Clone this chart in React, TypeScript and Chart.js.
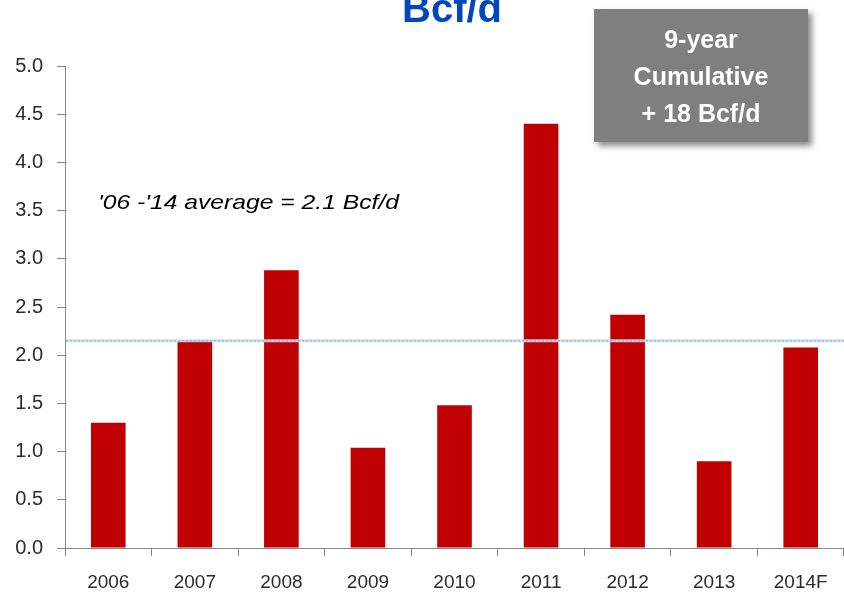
import React, { useEffect, useRef } from "react";
import { Chart, registerables } from "chart.js";

Chart.register(...registerables);

const categories = ["2006", "2007", "2008", "2009", "2010", "2011", "2012", "2013", "2014F"];
const additions = [1.3, 2.15, 2.88, 1.04, 1.48, 4.4, 2.42, 0.9, 2.08];
const averageValue = 2.15;
const yTicks = [0, 0.5, 1, 1.5, 2, 2.5, 3, 3.5, 4, 4.5, 5];
const titleText = "Bcf/d";
const averageLabel = "'06 -'14 average = 2.1 Bcf/d";
const boxLines = ["9-year", "Cumulative", "+ 18 Bcf/d"];

const overlayPlugin = {
  id: "overlay",
  afterDatasetsDraw(chart: any) {
    const { ctx, chartArea, scales } = chart;
    const y = scales.y.getPixelForValue(averageValue);
    ctx.save();
    ctx.strokeStyle = "rgba(205,220,240,0.9)";
    ctx.lineWidth = 3;
    ctx.beginPath();
    ctx.moveTo(chartArea.left + 1, y);
    ctx.lineTo(chartArea.right, y);
    ctx.stroke();
    ctx.strokeStyle = "#9DB6DB";
    ctx.lineWidth = 1.5;
    ctx.setLineDash([2, 2]);
    ctx.beginPath();
    ctx.moveTo(chartArea.left + 1, y);
    ctx.lineTo(chartArea.right, y);
    ctx.stroke();
    ctx.restore();
  },
  afterDraw(chart: any) {
    const { ctx } = chart;
    ctx.save();
    ctx.fillStyle = "#0047BB";
    ctx.font = "bold 40px 'Liberation Sans', Arial, sans-serif";
    ctx.textAlign = "center";
    ctx.textBaseline = "alphabetic";
    ctx.fillText(titleText, 452, 22);

    ctx.save();
    ctx.shadowColor = "rgba(0,0,0,0.45)";
    ctx.shadowBlur = 6;
    ctx.shadowOffsetX = 4;
    ctx.shadowOffsetY = 4;
    ctx.fillStyle = "#7F7F7F";
    ctx.fillRect(594, 9, 214, 133);
    ctx.restore();

    ctx.fillStyle = "#FFFFFF";
    ctx.font = "bold 25px 'Liberation Sans', Arial, sans-serif";
    ctx.textAlign = "center";
    const baselines = [48, 85, 122];
    boxLines.forEach((t, i) => ctx.fillText(t, 701, baselines[i]));

    ctx.font = "italic 21px 'Liberation Sans', Arial, sans-serif";
    ctx.fillStyle = "#000000";
    ctx.textAlign = "left";
    const w = ctx.measureText(averageLabel).width;
    const sx = 301 / w;
    ctx.translate(98, 209);
    ctx.scale(sx, 1);
    ctx.fillText(averageLabel, 0, 0);
    ctx.restore();
  },
};

export default function App() {
  const ref = useRef<HTMLCanvasElement>(null);
  useEffect(() => {
    if (!ref.current) return;
    const chart = new Chart(ref.current, {
      type: "bar",
      data: {
        labels: categories,
        datasets: [
          {
            data: additions,
            backgroundColor: "#C00000",
            borderWidth: 0,
            barPercentage: 0.4,
            categoryPercentage: 1,
          },
        ],
      },
      options: {
        responsive: false,
        animation: false,
        layout: { padding: { top: 66, right: 0, left: 0, bottom: 0 } },
        plugins: {
          legend: { display: false },
          tooltip: { enabled: false },
          title: { display: false },
        },
        scales: {
          x: {
            grid: {
              display: true,
              drawOnChartArea: false,
              drawTicks: true,
              tickLength: 8,
              color: "#888888",
              offset: true,
            },
            border: { color: "#888888", width: 1 },
            ticks: {
              color: "#2B2B2B",
              font: { family: "'Liberation Sans', Arial, sans-serif", size: 19 },
              padding: 15,
              maxRotation: 0,
            },
            afterFit(scale: any) {
              scale.height = 48;
            },
          },
          y: {
            min: 0,
            max: 5,
            afterBuildTicks(scale: any) {
              scale.ticks = yTicks.map((v) => ({ value: v }));
            },
            grid: {
              display: true,
              drawOnChartArea: false,
              drawTicks: true,
              tickLength: 8,
              color: "#888888",
            },
            border: { color: "#888888", width: 1 },
            ticks: {
              color: "#2B2B2B",
              font: { family: "'Liberation Sans', Arial, sans-serif", size: 20 },
              padding: 14,
              callback: (v: any) => Number(v).toFixed(1),
            },
            afterFit(scale: any) {
              scale.width = 65;
            },
          },
        },
      },
      plugins: [overlayPlugin],
    });
    return () => chart.destroy();
  }, []);
  return (
    <div style={{ position: "absolute", left: 0, top: 0, width: 844, height: 596, background: "#fff" }}>
      <canvas ref={ref} width={844} height={596} style={{ display: "block" }} />
    </div>
  );
}
